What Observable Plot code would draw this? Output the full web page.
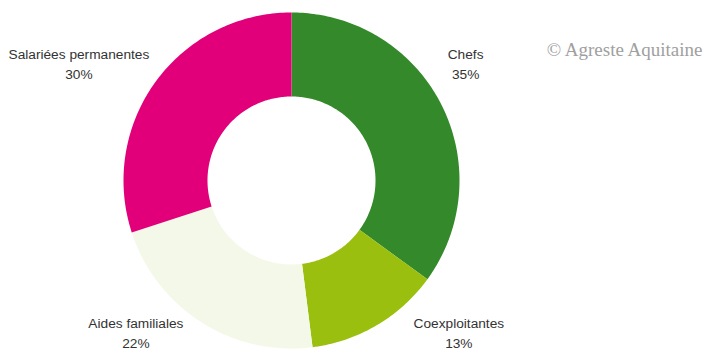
<!DOCTYPE html>
<html><head><meta charset="utf-8">
<script src="https://cdn.jsdelivr.net/npm/d3@7"></script>
<script src="https://cdn.jsdelivr.net/npm/@observablehq/plot@0.6"></script>
<style>body{margin:0;background:#fff}</style>
</head><body><div id="chart"></div>
<script>
const categories = ["Chefs", "Coexploitantes", "Aides familiales", "Salariées permanentes"];
const shares = [35, 13, 22, 30];
const colors = ["#348a2a", "#9bbf0e", "#f4f8e8", "#e2007a"];
const credit = "© Agreste Aquitaine";

// layout
const W = 705, H = 361, cx = 291, cy = 180, R = 168, r = 84;
const fontSize = 13.7, font = "Liberation Sans, Arial, sans-serif";
const total = d3.sum(shares);
let acc = 0;
const slices = categories.map((c, i) => {
  const a0 = acc / total * 2 * Math.PI;
  acc += shares[i];
  const a1 = acc / total * 2 * Math.PI;
  return {cat: c, share: shares[i], a0, a1, mid: (a0 + a1) / 2};
});
const pts = [];
for (const s of slices) {
  const n = Math.max(8, Math.ceil((s.a1 - s.a0) * 60));
  for (let k = 0; k <= n; k++) {
    const a = s.a0 + (s.a1 - s.a0) * k / n;
    pts.push({cat: s.cat, x: cx + R * Math.sin(a), y: cy - R * Math.cos(a)});
  }
  for (let k = n; k >= 0; k--) {
    const a = s.a0 + (s.a1 - s.a0) * k / n;
    pts.push({cat: s.cat, x: cx + r * Math.sin(a), y: cy - r * Math.cos(a)});
  }
}
// label placement: upper labels on a top row, lower labels on a bottom row;
// the inner edge of each label block touches a circle around the pie
const ctx = document.createElement("canvas").getContext("2d");
ctx.font = `${fontSize}px ${font}`;
const Rl = R + 22, lcx = cx + 7;
const labels = slices.map(s => {
  const lines = [s.cat, `${s.share}%`];
  const w = d3.max(lines, t => ctx.measureText(t).width);
  const dy = Math.cos(s.mid) >= 0 ? -0.7 * R : 0.9 * R;
  const side = Math.sin(s.mid) >= 0 ? 1 : -1;
  const edge = Math.sqrt(Math.max(0, Rl * Rl - dy * dy));
  return {text: lines.join("\n"), x: lcx + side * (edge + w / 2), y: cy + dy};
});

const chart = Plot.plot({
  width: W, height: H, margin: 0,
  style: {fontFamily: font, background: "#fff"},
  x: {domain: [0, W], range: [0, W], axis: null},
  y: {domain: [0, H], range: [0, H], axis: null},
  color: {domain: categories, range: colors},
  marks: [
    Plot.line(pts, {x: "x", y: "y", z: "cat", fill: "cat", stroke: null, curve: "linear-closed"}),
    Plot.text(labels, {x: "x", y: "y", text: "text", fontSize, lineHeight: 20 / fontSize, fill: "#333", textAnchor: "middle"}),
    Plot.text([credit], {frameAnchor: "top-right", dx: -3, dy: 49, text: d => d, fontFamily: "Liberation Serif, serif", fontSize: 19, fill: "#a0a0a0", lineAnchor: "middle"})
  ]
});
document.getElementById("chart").appendChild(chart);
</script></body></html>
